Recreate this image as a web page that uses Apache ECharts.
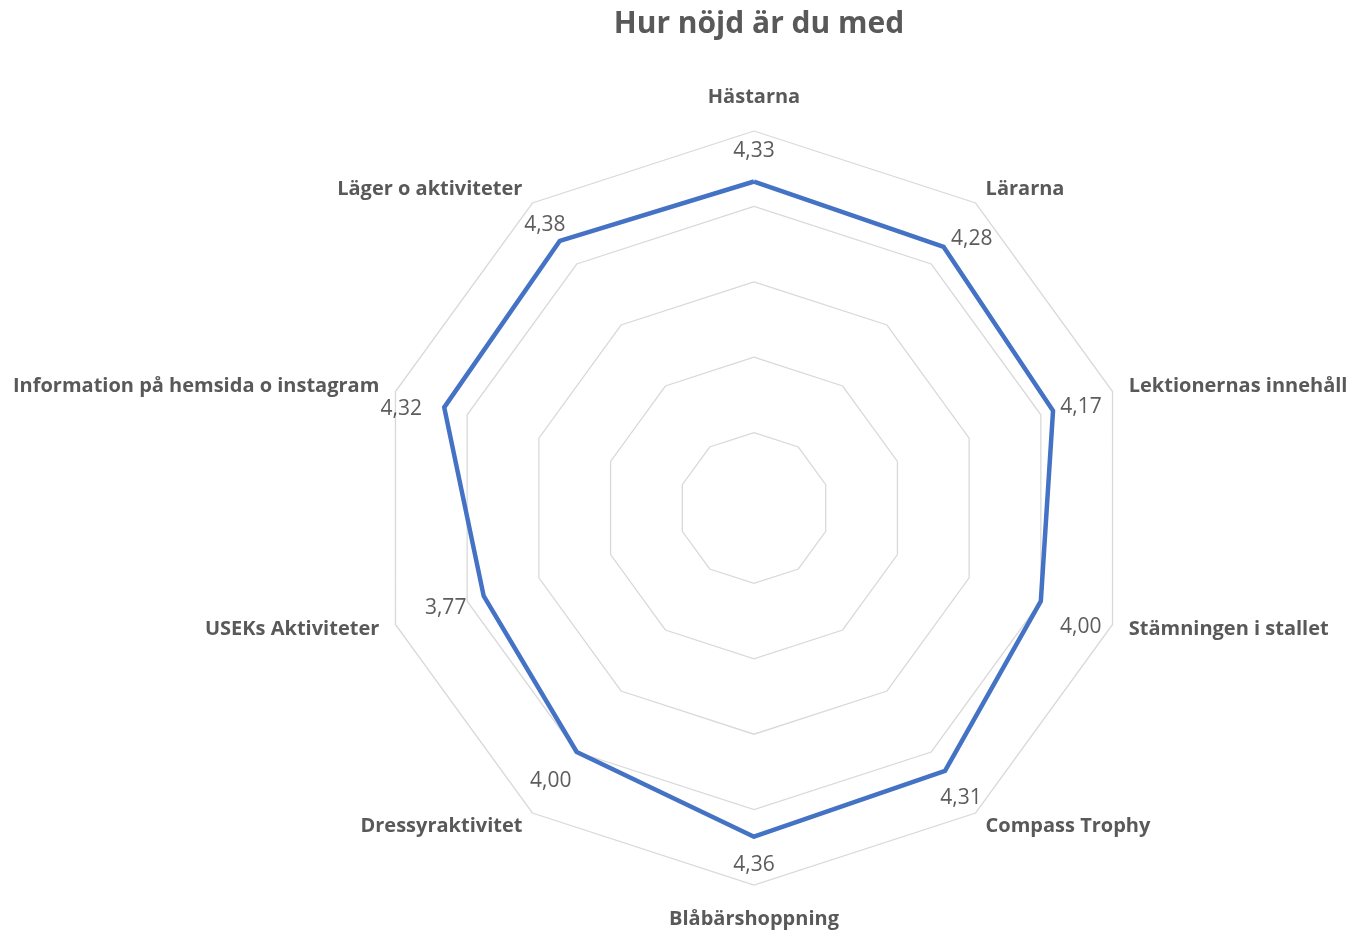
<!DOCTYPE html>
<html>
<head>
<meta charset="utf-8">
<title>Hur nöjd är du med</title>
<script src="https://cdn.jsdelivr.net/npm/echarts@6/dist/echarts.min.js"></script>
<style>
  html, body { margin: 0; padding: 0; background: #fff; }
  #chart { width: 1348px; height: 934px; }
</style>
</head>
<body>
<div id="chart"></div>
<script>
  // clockwise from the top, as in the original
  const categories = [
    "Hästarna",
    "Lärarna",
    "Lektionernas innehåll",
    "Stämningen i stallet",
    "Compass Trophy",
    "Blåbärshoppning",
    "Dressyraktivitet",
    "USEKs Aktiviteter",
    "Information på hemsida o instagram",
    "Läger o aktiviteter",
  ];
  const scores = [4.33, 4.28, 4.17, 4.0, 4.31, 4.36, 4.0, 3.77, 4.32, 4.38];
  const axisMax = 5;

  // where Excel put each value label, relative to its point
  const labelOffsets = [
    [0, -31], [28, -8], [28, -4], [40, 26], [16, 27],
    [0, 28], [-26, 29], [-38, 12], [-43, 2], [-15, -16],
  ];

  const center = [754, 508];
  const radius = 377;

  // echarts lays radar indicators out counter-clockwise, so flip the order after the first
  const order = [0].concat(categories.map((_, i) => i).slice(1).reverse());

  const chart = echarts.init(document.getElementById("chart"));
  chart.setOption({
    animation: false,
    title: {
      text: "Hur nöjd är du med",
      left: 754,
      textAlign: "center",
      top: 4,
      textStyle: {
        fontFamily: "Open Sans",
        fontWeight: "bold",
        fontSize: 30,
        color: "#595959",
      },
    },
    radar: {
      center: center,
      radius: radius,
      startAngle: 90,
      splitNumber: 5,
      shape: "polygon",
      indicator: order.map((i) => ({ name: categories[i], min: 0, max: axisMax })),
      axisName: {
        color: "#595959",
        fontFamily: "Open Sans",
        fontWeight: "bold",
        fontSize: 20,
        padding: [7, 0, 7, 0],
      },
      nameGap: 17,
      axisLine: { show: false },
      axisTick: { show: false },
      splitArea: { show: false },
      splitLine: { lineStyle: { color: "#d9d9d9", width: 1.3 } },
    },
    polar: { center: center, radius: radius },
    angleAxis: {
      type: "value",
      min: 0,
      max: categories.length,
      startAngle: 90,
      clockwise: true,
      show: false,
    },
    radiusAxis: { type: "value", min: 0, max: axisMax, show: false },
    series: [
      {
        type: "radar",
        symbol: "none",
        lineStyle: { color: "#4472C4", width: 4.5 },
        data: [{ value: order.map((i) => scores[i]) }],
      },
      {
        type: "scatter",
        coordinateSystem: "polar",
        symbolSize: 1,
        itemStyle: { color: "transparent" },
        silent: true,
        z: 3,
        data: scores.map((v, i) => ({
          value: [v, i],
          label: {
            show: true,
            position: "inside",
            offset: labelOffsets[i],
            formatter: v.toFixed(2).replace(".", ","),
            fontFamily: "Open Sans",
            fontSize: 21,
            color: "#333333",
          },
        })),
      },
    ],
  });
</script>
</body>
</html>
